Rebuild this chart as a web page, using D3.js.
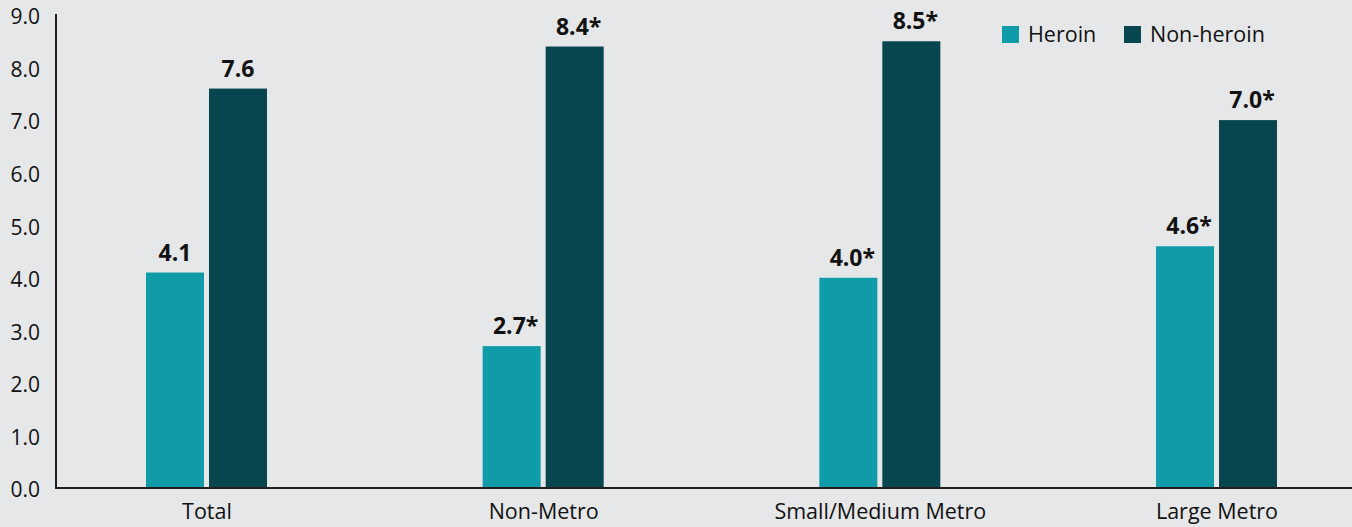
<!DOCTYPE html>
<html>
<head>
<meta charset="utf-8">
<script src="https://cdn.jsdelivr.net/npm/d3@7"></script>
<style>
  html, body { margin: 0; padding: 0; background: #e6e7e9; }
  svg { display: block; }
  text { font-family: "Open Sans", "Noto Sans", sans-serif; fill: #111; }
</style>
</head>
<body>
<svg id="chart"></svg>
<script>
const categories = ['Total', 'Non-Metro', 'Small/Medium Metro', 'Large Metro']
const series = ['Heroin', 'Non-heroin']
const heroin = [4.1, 2.7, 4.0, 4.6]
const nonHeroin = [7.6, 8.4, 8.5, 7.0]
const heroinLabels = ['4.1', '2.7*', '4.0*', '4.6*']
const nonHeroinLabels = ['7.6', '8.4*', '8.5*', '7.0*']
const yTicks = [0, 1, 2, 3, 4, 5, 6, 7, 8, 9]

const colors = { 'Heroin': '#0f9ba8', 'Non-heroin': '#07454f' }

const width = 1352, height = 527
const svg = d3.select('#chart').attr('width', width).attr('height', height)

const data = categories.map((c, i) => ({
  category: c,
  values: [
    { key: 'Heroin', value: heroin[i], label: heroinLabels[i] },
    { key: 'Non-heroin', value: nonHeroin[i], label: nonHeroinLabels[i] }
  ]
}))

// scales
const x = d3.scalePoint().domain(categories).range([206.5, 1216.5])
const xs = d3.scaleBand().domain(series).range([-60.5, 60.5]).paddingInner(0.0794)
const y = d3.scaleLinear().domain([0, 9]).range([488, 15])

// y axis labels
svg.append('g')
  .attr('transform', 'translate(40,0)')
  .call(d3.axisLeft(y).tickValues(yTicks).tickFormat(d3.format('.1f')).tickSize(0).tickPadding(0))
  .call(g => g.select('.domain').remove())
  .call(g => g.selectAll('text').attr('font-size', 21).attr('font-family', '"Open Sans", sans-serif').attr('fill', '#111').attr('dy', '0.42em'))

// bars
const groups = svg.append('g').selectAll('g')
  .data(data)
  .join('g')
    .attr('transform', d => 'translate(' + x(d.category) + ',0)')

groups.selectAll('rect')
  .data(d => d.values)
  .join('rect')
    .attr('x', d => xs(d.key))
    .attr('y', d => y(d.value))
    .attr('width', xs.bandwidth())
    .attr('height', d => y(0) - y(d.value))
    .attr('fill', d => colors[d.key])

groups.selectAll('text.val')
  .data(d => d.values)
  .join('text')
    .attr('class', 'val')
    .attr('x', d => xs(d.key) + xs.bandwidth() / 2 + (d.label.endsWith('*') ? 4 : 0))
    .attr('y', d => y(d.value) - 12)
    .attr('text-anchor', 'middle')
    .attr('font-size', 23)
    .attr('font-weight', 'bold')
    .text(d => d.label)

// axes lines
svg.append('line')
  .attr('x1', 56).attr('x2', 56).attr('y1', 14).attr('y2', 489)
  .attr('stroke', '#231f20').attr('stroke-width', 2)
svg.append('g')
  .attr('transform', 'translate(0,488)')
  .call(d3.axisBottom(x).tickSize(0).tickPadding(16))
  .call(g => g.select('.domain').attr('d', 'M55,0H' + width).attr('stroke', '#231f20').attr('stroke-width', 2))
  .call(g => g.selectAll('text').attr('font-size', 21.5).attr('font-family', '"Open Sans", sans-serif').attr('fill', '#111'))

// legend
const legend = svg.append('g').attr('transform', 'translate(1002,26)')
const item = legend.selectAll('g')
  .data(series)
  .join('g')
    .attr('transform', (d, i) => 'translate(' + (i * 122) + ',0)')
item.append('rect')
  .attr('width', 17).attr('height', 17)
  .attr('fill', d => colors[d])
item.append('text')
  .attr('x', 26).attr('y', 8.5).attr('dy', '0.36em')
  .attr('font-size', 21.5)
  .text(d => d)
</script>
</body>
</html>
